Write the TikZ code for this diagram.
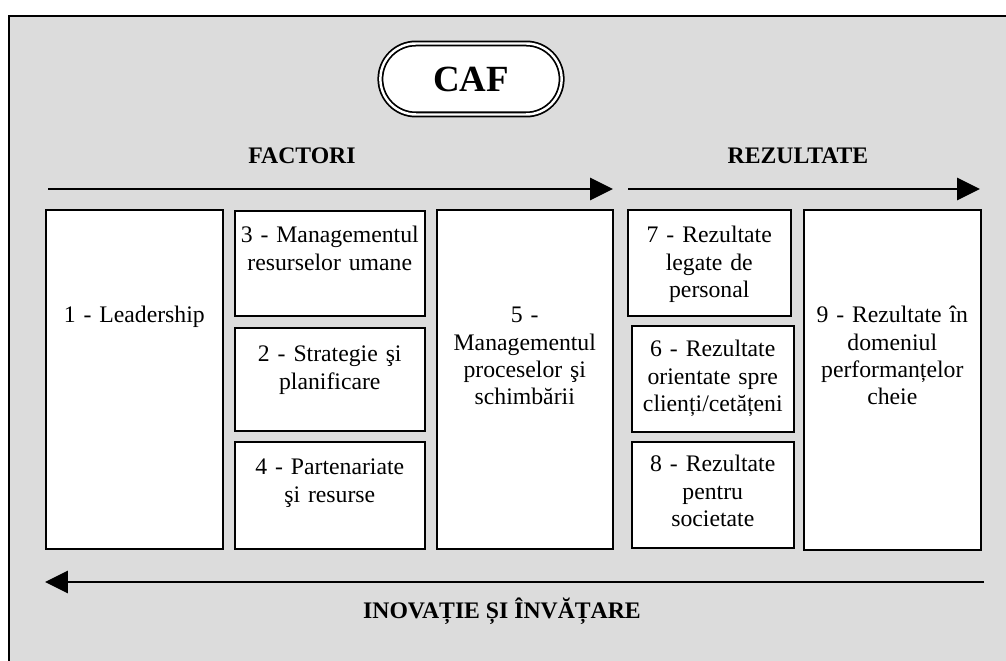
\documentclass[tikz,border=0pt]{standalone}
\usepackage{fontspec}
\setmainfont{Liberation Serif}
\usepackage{tikz}
\usetikzlibrary{positioning,arrows.meta,shapes.misc}
\definecolor{panelgray}{RGB}{220,220,220}

\begin{document}
\begin{tikzpicture}[x=0.02cm,y=-0.02cm,
  crit/.style={draw,fill=white,line width=0.9pt,anchor=north west,inner sep=0pt},
  txt/.style={anchor=base,align=center,inner sep=0pt,text width=3.6cm,font=\fontsize{13.5}{15.5}\selectfont},
  head/.style={anchor=base,inner sep=0pt,font=\fontsize{13.5}{16}\selectfont\bfseries},
  flow/.style={line width=1.7pt,-{Triangle[length=13pt,width=12.5pt]}}]
\useasboundingbox (0,0) rectangle (1006,661);
\clip (0,0) rectangle (1006,661);
% frame
\draw[fill=panelgray,line width=1.2pt] (9,16) rectangle (1030,690);
% title
\node[draw,rounded rectangle,double,line width=1pt,double distance=1.4pt,fill=white,
  minimum width=3.86cm,minimum height=1.42cm,font=\fontsize{21}{24}\selectfont\bfseries] (caf) at (471,79) {CAF};
% headings
\node[head] (factori) at (302,164) {FACTORI};
\node[head] (rezultate) at (798,164) {REZULTATE};
\node[head] (inovatie) at (502,618) {INOVAȚIE ȘI ÎNVĂȚARE};
% criteria boxes
\node[crit,minimum width=3.54cm,minimum height=6.78cm] (b1) at (45,209) {};
\node[crit,minimum width=3.8cm,minimum height=2.1cm] (b3) at (234,210) {};
\node[crit,minimum width=3.8cm,minimum height=2.06cm] (b2) at (234,327) {};
\node[crit,minimum width=3.8cm,minimum height=2.14cm] (b4) at (234,441) {};
\node[crit,minimum width=3.52cm,minimum height=6.78cm] (b5) at (436,209) {};
\node[crit,minimum width=3.26cm,minimum height=2.12cm] (b7) at (627,209) {};
\node[crit,minimum width=3.24cm,minimum height=2.12cm] (b6) at (631,325) {};
\node[crit,minimum width=3.24cm,minimum height=2.12cm] (b8) at (631,441) {};
\node[crit,minimum width=3.54cm,minimum height=6.8cm] (b9) at (803,209) {};
% texts
\node[txt] (t1) at ([yshift=-2.28cm]b1.north) {1 - Leadership};
\node[txt] (t3) at ([yshift=-0.66cm]b3.north) {3 - Managementul\\ resurselor umane};
\node[txt] (t2) at ([yshift=-0.7cm]b2.north) {2 - Strategie şi\\ planificare};
\node[txt] (t4) at ([yshift=-0.68cm]b4.north) {4 - Partenariate\\ şi resurse};
\node[txt] (t5) at ([yshift=-2.28cm]b5.north) {5 -\\ Managementul\\ proceselor şi\\ schimbării};
\node[txt] (t7) at ([yshift=-0.68cm]b7.north) {7 - Rezultate\\ legate de\\ personal};
\node[txt] (t6) at ([yshift=-0.64cm]b6.north) {6 - Rezultate\\ orientate spre\\ clienți/cetățeni};
\node[txt] (t8) at ([yshift=-0.62cm]b8.north) {8 - Rezultate\\ pentru\\ societate};
\node[txt] (t9) at ([yshift=-2.28cm]b9.north) {9 - Rezultate în\\ domeniul\\ performanțelor\\ cheie};
% arrows
\coordinate (fs) at (48,189);
\coordinate (fe) at (613,189);
\coordinate (rs) at (628,189);
\coordinate (re) at (980,189);
\coordinate (is) at (984,582);
\coordinate (ie) at (45,582);
\draw[flow] (fs) -- (fe);
\draw[flow] (rs) -- (re);
\draw[flow] (is) -- (ie);
\end{tikzpicture}
\end{document}
